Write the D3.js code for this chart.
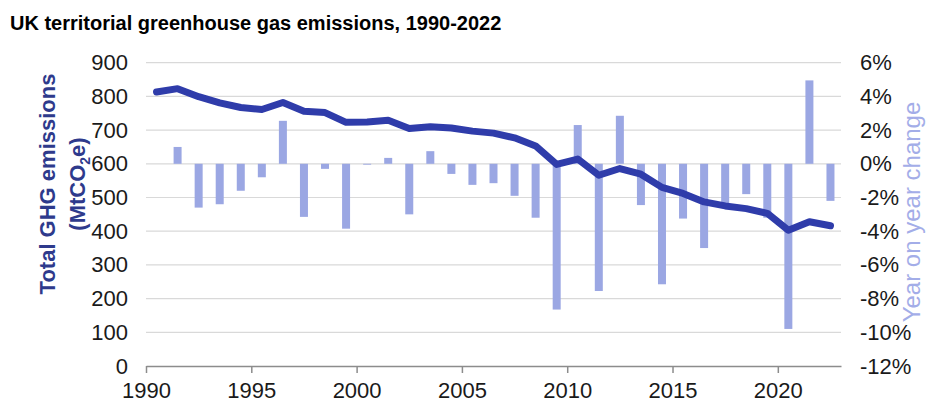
<!DOCTYPE html>
<html>
<head>
<meta charset="utf-8">
<script src="https://cdn.jsdelivr.net/npm/d3@7"></script>
<style>
  body { margin: 0; background: #fff; }
  svg { font-family: "Liberation Sans", Arial, sans-serif; }
</style>
</head>
<body>
<svg width="926" height="403"></svg>
<script>
// data
var years = d3.range(1990, 2023);
var emissions = [813, 823, 799, 781, 767, 761, 782, 756, 752, 723, 724, 729, 705, 710,
                 706, 697, 691, 677, 653, 598, 614, 566, 586, 569, 530, 512, 487, 475,
                 467, 453, 403, 428, 416];
var yoyChange = [null, 1.0, -2.6, -2.4, -1.6, -0.8, 2.55, -3.15, -0.3, -3.85, -0.05, 0.35,
                 -3.0, 0.75, -0.6, -1.25, -1.15, -1.9, -3.2, -8.65, 2.3, -7.55, 2.85, -2.45,
                 -7.15, -3.25, -5.0, -2.35, -1.8, -3.2, -9.8, 4.95, -2.2];
var leftTicks = d3.range(0, 901, 100);
var rightTicks = d3.range(-12, 7, 2);
var yearTicks = [1990, 1995, 2000, 2005, 2010, 2015, 2020];

var svg = d3.select("svg"),
    pLeft = 146, pRight = 841, pTop = 62.7, pBottom = 366;

var lineCol = "#2f3caa", barCol = "#9ba7e3";

//scales
var x = d3.scaleBand().domain(years).range([pLeft, pRight]);
var xAxisScale = d3.scaleLinear().domain([1990, 2023]).range([pLeft, pRight]);
var yL = d3.scaleLinear().domain([0, 900]).range([pBottom, pTop]);
var yR = d3.scaleLinear().domain([-12, 6]).range([pBottom, pTop]);

svg.append("text")
    .attr("x", 10).attr("y", 30)
    .style("font-size", "20px").style("font-weight", "bold")
    .text("UK territorial greenhouse gas emissions, 1990-2022");

// gridlines
svg.append("g").selectAll("line")
    .data(leftTicks.slice(1))
    .enter().append("line")
    .attr("x1", pLeft).attr("x2", pRight)
    .attr("y1", function(d) { return yL(d); })
    .attr("y2", function(d) { return yL(d); })
    .attr("stroke", "#d9d9d9").attr("stroke-width", 1.2);

// bars (right axis)
var barData = years.map(function(y, i) { return {year: y, v: yoyChange[i]}; })
    .filter(function(d) { return d.v !== null; });
svg.append("g").selectAll("rect")
    .data(barData)
    .enter().append("rect")
    .attr("x", function(d) { return x(d.year) + x.bandwidth() / 2 - 4; })
    .attr("width", 8)
    .attr("y", function(d) { return yR(Math.max(0, d.v)); })
    .attr("height", function(d) { return Math.abs(yR(d.v) - yR(0)); })
    .attr("fill", barCol);

// x axis
var xAxis = svg.append("g")
    .attr("transform", "translate(0," + pBottom + ")")
    .call(d3.axisBottom(xAxisScale).tickValues(yearTicks).tickFormat(d3.format("d"))
        .tickSize(7).tickSizeOuter(0).tickPadding(9));
xAxis.select(".domain").attr("stroke", "#8c8c8c").attr("stroke-width", 1.5);
xAxis.selectAll(".tick line").attr("stroke", "#8c8c8c").attr("stroke-width", 1.5);
xAxis.selectAll("text").style("font-size", "22px").attr("fill", "#1a1a1a");

// left axis
var yAxisL = svg.append("g")
    .attr("transform", "translate(" + pLeft + ",0)")
    .call(d3.axisLeft(yL).tickValues(leftTicks).tickSize(0).tickPadding(18));
yAxisL.select(".domain").remove();
yAxisL.selectAll("text").style("font-size", "22px").attr("fill", "#1a1a1a");

// right axis
var yAxisR = svg.append("g")
    .attr("transform", "translate(" + pRight + ",0)")
    .call(d3.axisRight(yR).tickValues(rightTicks).tickSize(0).tickPadding(19)
        .tickFormat(function(d) { return d + "%"; }));
yAxisR.select(".domain").remove();
yAxisR.selectAll("text").style("font-size", "22px").attr("fill", "#1a1a1a");

// emissions line
var line = d3.line()
    .x(function(d, i) { return x(years[i]) + x.bandwidth() / 2; })
    .y(function(d) { return yL(d); });
svg.append("path")
    .datum(emissions)
    .attr("d", line)
    .attr("fill", "none")
    .attr("stroke", lineCol)
    .attr("stroke-width", 7)
    .attr("stroke-linecap", "round")
    .attr("stroke-linejoin", "round");

// axis titles
var lt = svg.append("text")
    .attr("transform", "translate(0,184) rotate(-90)")
    .attr("text-anchor", "middle")
    .attr("fill", "#2e3a8c")
    .style("font-size", "22px").style("font-weight", "bold");
lt.append("tspan").attr("x", 0).attr("y", 55).text("Total GHG emissions");
lt.append("tspan").attr("x", 0).attr("y", 85).text("(MtCO")
  .append("tspan").attr("dy", 5).style("font-size", "14px").text("2");
lt.append("tspan").attr("dy", -5).text("e)");

svg.append("text")
    .attr("transform", "translate(920,212) rotate(-90)")
    .attr("text-anchor", "middle")
    .attr("fill", "#a3ade8")
    .style("font-size", "24px")
    .text("Year on year change");
</script>
</body>
</html>
